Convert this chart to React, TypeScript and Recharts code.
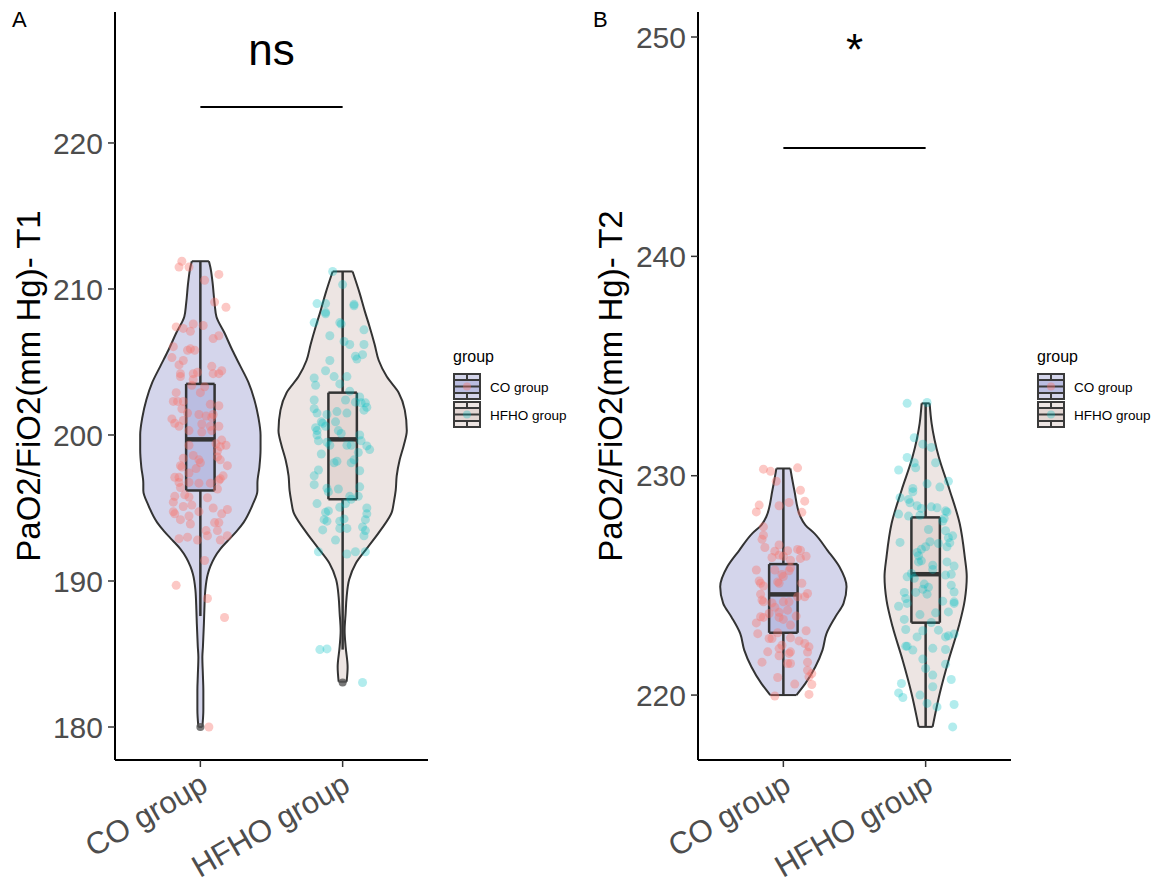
import React from 'react';
import { ComposedChart, Area, Scatter, XAxis, YAxis, ReferenceLine } from 'recharts';

type Pair = [number, number];

const categories = ['CO group', 'HFHO group'];

// violin outlines: [value, half width in category units]
const violinA_CO: Pair[] = [
  [211.9, 0.06], [211.5, 0.07], [210.5, 0.085], [209, 0.1], [208.1, 0.113], [207, 0.169], [205.8, 0.225],
  [204.7, 0.282], [203.6, 0.338], [202.4, 0.38], [201.2, 0.408], [200, 0.423], [199, 0.423], [197.8, 0.415],
  [196.7, 0.401], [196.2, 0.401], [195.2, 0.366], [194, 0.303], [193.4, 0.254], [192.8, 0.197], [192.2, 0.141],
  [191.6, 0.099], [191, 0.07], [190.5, 0.053], [189.4, 0.035], [188, 0.028], [187.1, 0.025], [185.5, 0.018],
  [184.8, 0.014], [183.5, 0.018], [182.5, 0.021], [181.2, 0.021], [180, 0.014],
];
const violinA_HFHO: Pair[] = [
  [211.2, 0.07], [209.7, 0.12], [208.5, 0.155], [207.4, 0.19], [206.2, 0.225], [205.1, 0.254], [204, 0.31],
  [202.9, 0.394], [201.7, 0.437], [200.3, 0.451], [199.3, 0.43], [198.3, 0.401], [197.2, 0.38], [196.2, 0.373],
  [195.4, 0.36], [194.7, 0.345], [193.5, 0.268], [192.3, 0.176], [191.2, 0.092], [190.1, 0.046], [188.9, 0.028],
  [187.8, 0.021], [186.6, 0.014], [185.5, 0.021], [184.1, 0.035], [183.1, 0.028],
];
const violinB_CO: Pair[] = [
  [230.33, 0.049], [229.34, 0.077], [228.13, 0.12], [227.75, 0.155], [227.37, 0.218], [226.6, 0.31],
  [225.85, 0.394], [224.94, 0.444], [224.18, 0.423], [223.57, 0.366], [222.8, 0.303], [222.05, 0.275],
  [221.29, 0.225], [220.53, 0.155], [220.0, 0.092],
];
const violinB_HFHO: Pair[] = [
  [233.3, 0.028], [232.39, 0.042], [230.86, 0.092], [229.34, 0.169], [227.83, 0.239], [226.3, 0.275],
  [225.39, 0.289], [224.33, 0.275], [223.11, 0.232], [221.6, 0.162], [220.07, 0.099], [219.0, 0.063],
  [218.55, 0.049],
];

// box stats: [lower whisker, q1, median, q3, upper whisker]
const boxA_CO = [187.6, 196.2, 199.7, 203.5, 211.9];
const boxA_HFHO = [185.3, 195.6, 199.7, 202.9, 211.2];
const boxB_CO = [220.0, 222.84, 224.59, 225.97, 230.33];
const boxB_HFHO = [218.55, 223.3, 225.51, 228.1, 233.3];
const outliersA = [[180.0], [183.05]];
const outliersB: number[][] = [[], []];

// jittered points: [offset from category, value]
const pointsA_CO: Pair[] = [
  [-0.13, 211.9], [-0.15, 211.5], [-0.08, 211.5], [0.13, 211.0], [0.03, 210.6], [0.1, 209.1], [0.18, 208.75],
  [-0.05, 207.6], [0.02, 207.5], [-0.17, 207.4], [-0.12, 207.3], [-0.07, 207.1], [0.09, 206.6], [0.13, 206.8],
  [-0.19, 206.05], [-0.09, 205.8], [-0.07, 205.9], [-0.04, 205.8], [-0.2, 205.3], [-0.12, 205.1], [-0.15, 204.8],
  [0.08, 204.7], [-0.02, 204.3], [0.09, 204.2], [0.13, 204.2], [0.15, 204.4], [-0.14, 204.2], [-0.14, 204.0],
  [-0.05, 204.2], [-0.05, 203.8], [-0.06, 203.4], [0.03, 203.3], [-0.17, 202.9], [0, 202.9], [-0.19, 202.3],
  [-0.16, 202.3], [-0.12, 202.3], [-0.13, 201.8], [0.07, 202.1], [0.13, 202.0], [-0.09, 201.5], [-0.01, 201.4],
  [0.04, 201.3], [0.09, 201.4], [0.08, 201.2], [-0.2, 201.1], [-0.18, 200.8], [-0.12, 201.0], [-0.15, 200.6],
  [-0.08, 200.3], [0.01, 200.75], [0.07, 200.6], [0.13, 200.6], [0.01, 200.2], [0.08, 200.3], [0.11, 199.4],
  [0.15, 199.65], [0.18, 199.3], [0.14, 199.2], [0.12, 198.9], [-0.08, 199.3], [-0.05, 198.6], [-0.01, 198.3],
  [0, 198.1], [-0.03, 197.7], [-0.12, 198.4], [-0.14, 197.9], [-0.13, 197.8], [0.12, 198.5], [0.14, 198.3],
  [0.19, 197.9], [-0.08, 197.4], [-0.18, 197.1], [-0.15, 197.1], [-0.15, 196.75], [-0.14, 196.4], [-0.08, 196.75],
  [-0.01, 196.7], [0.07, 196.7], [0.14, 197.0], [0.16, 197.2], [0.13, 196.9], [0.12, 196.3], [-0.18, 195.8],
  [-0.11, 195.9], [-0.08, 195.75], [0.05, 195.7], [-0.19, 195.4], [-0.12, 195.1], [-0.06, 195.2], [-0.01, 194.75],
  [0.09, 195.0], [0.19, 194.9], [0.15, 194.6], [-0.19, 194.75], [-0.18, 194.6], [-0.14, 194.2], [-0.08, 194.45],
  [-0.07, 193.9], [0.1, 194.0], [0.13, 194.0], [0.12, 193.45], [0.04, 193.45], [0.05, 193.1], [0.19, 193.1],
  [0.14, 192.8], [-0.02, 192.8], [-0.09, 193.0], [-0.15, 192.9], [0.03, 191.4], [-0.17, 189.7], [0.05, 188.8],
  [0.17, 187.5], [0.06, 180.0],
];
const pointsA_HFHO: Pair[] = [
  [-0.07, 211.2], [0, 210.3], [-0.18, 209.0], [-0.12, 209.0], [0.08, 208.95], [0.08, 208.85], [-0.12, 208.4],
  [-0.12, 208.3], [-0.2, 207.7], [-0.02, 207.7], [-0.01, 207.6], [0.15, 207.2], [-0.09, 206.8], [0.01, 206.4],
  [0.05, 206.2], [0.15, 206.2], [0.09, 205.4], [0.1, 205.2], [0.14, 205.5], [-0.09, 205.1], [-0.12, 204.4],
  [-0.06, 204.0], [0.03, 204.0], [-0.2, 203.9], [-0.19, 203.4], [-0.02, 203.5], [0.05, 203.0], [-0.2, 202.4],
  [0.02, 202.4], [0.12, 202.6], [0.09, 202.25], [0.13, 202.2], [0.16, 202.2], [0.17, 201.9], [0.15, 201.7],
  [-0.2, 201.8], [-0.18, 201.5], [-0.11, 201.4], [-0.04, 201.6], [0.03, 201.5], [-0.15, 200.9], [-0.14, 200.8],
  [-0.19, 200.5], [-0.12, 200.6], [-0.05, 200.9], [-0.18, 200.3], [-0.18, 200.0], [-0.17, 199.6], [-0.03, 200.3],
  [-0.01, 200.1], [0.12, 200.0], [0.13, 199.6], [-0.11, 199.5], [-0.09, 199.3], [0.03, 199.3], [0.06, 199.3],
  [0.17, 199.25], [0.19, 199.0], [0.11, 198.8], [-0.15, 198.7], [-0.06, 198.1], [-0.04, 198.2], [0.06, 198.1],
  [0.08, 198.3], [-0.17, 197.6], [-0.2, 197.2], [0.12, 197.55], [-0.2, 196.6], [-0.11, 196.35], [-0.1, 196.1],
  [-0.03, 196.3], [0.12, 196.45], [0.11, 195.8], [0.05, 195.8], [0.06, 195.6], [-0.18, 195.3], [-0.02, 195.05],
  [0.02, 195.3], [0.17, 195.0], [0.17, 194.6], [0.16, 194.2], [-0.12, 194.7], [-0.1, 194.8], [-0.13, 194.2],
  [-0.11, 194.1], [-0.02, 194.1], [0.01, 194.25], [-0.14, 193.5], [-0.02, 193.6], [0.03, 193.6], [0.14, 193.7],
  [0.16, 193.45], [0.15, 193.1], [-0.05, 192.8], [-0.17, 192.0], [0.03, 191.85], [0.09, 192.0], [0.16, 192.0],
  [-0.16, 185.3], [-0.11, 185.35], [0.14, 183.05],
];
const pointsB_CO: Pair[] = [
  [-0.14, 230.3], [-0.09, 230.2], [0.1, 230.36], [-0.05, 229.75], [0.12, 229.34], [0.15, 228.84], [0.13, 228.33],
  [-0.17, 228.66], [-0.19, 228.35], [-0.03, 228.63], [0.04, 228.78], [-0.14, 227.67], [-0.14, 227.29],
  [-0.15, 227.1], [-0.13, 226.73], [-0.03, 226.84], [-0.06, 226.56], [0.03, 226.58], [0.1, 226.64], [0.12, 226.6],
  [-0.08, 226.27], [-0.03, 226.38], [0, 226.33], [0.05, 226.15], [0.12, 226.23], [0.16, 226.33], [-0.19, 225.7],
  [-0.06, 225.7], [-0.01, 225.5], [0, 225.4], [0.04, 225.67], [0.05, 225.8], [-0.03, 225.1], [-0.16, 225.1],
  [-0.17, 225.2], [-0.14, 224.97], [-0.04, 225.16], [0.13, 225.1], [0.17, 224.63], [0.15, 224.48], [-0.16, 224.6],
  [-0.14, 224.25], [-0.15, 224.33], [-0.08, 224.2], [-0.06, 224.0], [0, 224.25], [0.04, 224.25], [0.1, 224.48],
  [-0.1, 223.72], [-0.03, 223.77], [-0.03, 223.54], [0, 223.45], [0.03, 223.87], [0.05, 223.19], [0.09, 223.6],
  [-0.19, 223.29], [-0.16, 223.57], [-0.14, 223.54], [-0.18, 222.8], [-0.1, 222.58], [-0.08, 222.58],
  [-0.04, 222.84], [0.05, 222.61], [0.11, 222.47], [0.16, 222.93], [0.15, 222.35], [0.18, 222.2], [0.17, 221.96],
  [-0.03, 222.12], [-0.01, 222.27], [-0.11, 221.97], [-0.03, 221.79], [0.04, 221.9], [0.05, 221.97],
  [-0.15, 221.5], [0.03, 221.44], [0.05, 221.44], [0.17, 221.5], [0.17, 221.13], [0.2, 220.98], [0.18, 220.83],
  [0.2, 220.48], [-0.04, 220.8], [0.08, 220.5], [0.18, 220.03], [-0.06, 219.96],
];
const pointsB_HFHO: Pair[] = [
  [-0.13, 233.3], [0.01, 233.34], [-0.08, 231.73], [-0.02, 231.44], [0.04, 231.29], [-0.13, 230.83],
  [-0.19, 230.26], [-0.08, 230.59], [-0.07, 230.36], [0.07, 230.59], [0.16, 229.75], [0.1, 229.48], [0.01, 229.63],
  [-0.09, 229.42], [-0.09, 229.27], [-0.18, 229.0], [-0.12, 228.92], [-0.11, 228.77], [-0.06, 228.63],
  [-0.03, 228.51], [0.04, 228.58], [0.08, 228.54], [0.14, 228.4], [0.15, 228.35], [-0.19, 228.25], [-0.12, 228.16],
  [-0.04, 228.2], [0.13, 228.05], [0.12, 227.93], [0.02, 227.55], [0.14, 227.49], [0.19, 227.26], [0.16, 227.17],
  [0.17, 226.94], [0.15, 226.76], [0.09, 226.91], [0.03, 226.99], [0, 226.76], [-0.03, 226.65], [-0.06, 226.5],
  [-0.05, 226.35], [-0.18, 226.96], [-0.03, 226.12], [-0.05, 226.07], [0.05, 225.92], [0.15, 226.07],
  [0.2, 225.88], [-0.13, 225.39], [-0.1, 225.54], [-0.08, 225.32], [0.14, 225.47], [0.18, 225.51], [0.05, 225.73],
  [-0.01, 225.06], [0.02, 224.91], [-0.02, 224.82], [-0.07, 224.68], [0.01, 224.6], [0.18, 225.01], [0.2, 224.7],
  [-0.15, 224.68], [-0.14, 224.4], [-0.19, 224.05], [-0.13, 224.18], [0.12, 224.28], [0.2, 224.25], [0.2, 224.18],
  [0.16, 223.79], [0.07, 223.75], [-0.04, 223.67], [0.04, 223.31], [0.09, 222.96], [-0.15, 223.45],
  [-0.14, 222.99], [-0.02, 222.93], [-0.06, 222.65], [0.14, 222.65], [0.16, 222.7], [0.2, 222.78],
  [-0.14, 222.23], [-0.13, 222.23], [-0.09, 222.05], [0.05, 222.13], [0.14, 222.08], [-0.02, 221.64],
  [0, 221.21], [0.14, 221.41], [0.05, 220.91], [0.05, 220.38], [0.18, 220.71], [-0.17, 220.53], [-0.19, 220.1],
  [-0.16, 219.89], [-0.04, 220.0], [0.01, 219.62], [0.08, 219.46], [0.2, 219.57], [0.19, 218.55],
];

const ticksA = [180, 190, 200, 210, 220];
const ticksB = [220, 230, 240, 250];

const violinFill = ['#d4d5eb', '#ede5e3'];
const boxFill = ['#babde1', '#e3d6d3'];
const pointFill = ['#F8766D', '#00BFC4'];
const pointOpacity = [0.4, 0.3];
const INK = '#333333';
const BOX_HALF = 0.1;
const FONT = '"Liberation Sans", Arial, Helvetica, sans-serif';

function CatTick(props: any) {
  const { x, y, payload } = props;
  const ax = x - 2;
  const ay = y + 2;
  return (
    <text x={ax} y={ay} transform={`rotate(-30 ${ax} ${ay})`} textAnchor="end" dominantBaseline="hanging"
      fontSize={31} fill="#4d4d4d" fontFamily={FONT}>
      {categories[payload.value - 1]}
    </text>
  );
}

interface PanelProps {
  violins: Pair[][];
  boxes: number[][];
  points: Pair[][];
  outliers: number[][];
  domain: [number, number];
  ticks: number[];
  sigY: number;
  sigText: string;
  sigOffset: number;
}

const Panel: React.FC<PanelProps> = ({ violins, boxes, points, outliers, domain, ticks, sigY, sigText, sigOffset }) => {
  const refs: React.ReactNode[] = [];
  boxes.forEach((b, i) => {
    const c = i + 1;
    const [lo, q1, med, q3, hi] = b;
    const vd = violins[i];
    const top = vd[0];
    const bot = vd[vd.length - 1];
    const seg = (k: string, x1: number, y1: number, x2: number, y2: number, w: number) =>
      refs.push(
        <ReferenceLine key={`${k}${i}`} segment={[{ x: x1, y: y1 }, { x: x2, y: y2 }]} stroke={INK} strokeWidth={w} />
      );
    seg('vt', c - top[1], top[0], c + top[1], top[0], 2);
    seg('vb', c - bot[1], bot[0], c + bot[1], bot[0], 2);
    seg('wh', c, q3, c, hi, 2.5);
    seg('wl', c, lo, c, q1, 2.5);
    seg('bt', c - BOX_HALF, q3, c + BOX_HALF, q3, 2.5);
    seg('bb', c - BOX_HALF, q1, c + BOX_HALF, q1, 2.5);
    seg('md', c - BOX_HALF, med, c + BOX_HALF, med, 4.5);
  });

  return (
    <ComposedChart layout="vertical" width={440} height={884} margin={{ top: 12, right: 12, bottom: 0, left: 0 }}>
      <XAxis type="number" dataKey="x" domain={[0.4, 2.6]} allowDataOverflow ticks={[1, 2]} interval={0}
        height={124} tickSize={7} tick={CatTick}
        axisLine={{ stroke: '#000', strokeWidth: 2 }} tickLine={{ stroke: INK, strokeWidth: 1.5 }} />
      <YAxis type="number" dataKey="v" domain={domain} allowDataOverflow reversed ticks={ticks} interval={0}
        width={115} tickSize={7} tickMargin={5}
        tick={{ fontSize: 30, fill: '#4d4d4d', fontFamily: FONT }}
        axisLine={{ stroke: '#000', strokeWidth: 2 }} tickLine={{ stroke: INK, strokeWidth: 1.5 }} />
      {violins.map((vd, i) => (
        <Area key={`v${i}`} data={vd.map(([v, w]) => ({ v, r: [i + 1 - w, i + 1 + w] }))} dataKey="r"
          type="monotone" fill={violinFill[i]} fillOpacity={1} stroke={INK} strokeWidth={2} isAnimationActive={false} />
      ))}
      {boxes.map((b, i) => (
        <Area key={`b${i}`} data={[b[1], b[3]].map((v) => ({ v, r: [i + 1 - BOX_HALF, i + 1 + BOX_HALF] }))}
          dataKey="r" type="linear" fill={boxFill[i]} fillOpacity={1} stroke={INK} strokeWidth={2.5}
          isAnimationActive={false} />
      ))}
      {refs}
      <ReferenceLine segment={[{ x: 1, y: sigY }, { x: 2, y: sigY }]} stroke="#000" strokeWidth={2}
        label={{ value: sigText, position: 'top', offset: sigOffset, fontSize: 44, fill: '#000', fontFamily: FONT }} />
      {points.map((pts, i) => (
        <Scatter key={`p${i}`} data={pts.map(([dx, v]) => ({ x: i + 1 + dx, v }))} isAnimationActive={false}
          shape={(p: any) => <circle cx={p.cx} cy={p.cy} r={4.5} fill={pointFill[i]} fillOpacity={pointOpacity[i]} />} />
      ))}
      {outliers.map((o, i) => (
        <Scatter key={`o${i}`} data={o.map((v) => ({ x: i + 1, v }))} isAnimationActive={false}
          shape={(p: any) => <circle cx={p.cx} cy={p.cy} r={4} fill="#555" fillOpacity={0.8} />} />
      ))}
    </ComposedChart>
  );
};

const LegendKey: React.FC<{ x: number; y: number; i: number }> = ({ x, y, i }) => (
  <g>
    <rect x={x} y={y} width={28} height={27} fill="#3a3a3a" />
    <rect x={x + 2} y={y + 2} width={11} height={4} fill={violinFill[i]} />
    <rect x={x + 15} y={y + 2} width={11} height={4} fill={violinFill[i]} />
    <rect x={x + 2} y={y + 8} width={24} height={4.5} fill={boxFill[i]} />
    <rect x={x + 2} y={y + 14.5} width={24} height={4.5} fill={boxFill[i]} />
    <rect x={x + 2} y={y + 21} width={11} height={4} fill={violinFill[i]} />
    <rect x={x + 15} y={y + 21} width={11} height={4} fill={violinFill[i]} />
    <circle cx={x + 14} cy={y + 13.5} r={4} fill={pointFill[i]} fillOpacity={pointOpacity[i]} />
  </g>
);

const Legend: React.FC<{ x: number }> = ({ x }) => (
  <g fontFamily={FONT}>
    <text x={x} y={362} fontSize={16} fill="#000">group</text>
    {categories.map((c, i) => (
      <g key={c}>
        <LegendKey x={x} y={373 + i * 28} i={i} />
        <text x={x + 37} y={392 + i * 28} fontSize={13.5} fill="#000">{c}</text>
      </g>
    ))}
  </g>
);

export default function App() {
  return (
    <div style={{ position: 'relative', width: 1158, height: 884, background: '#fff', fontFamily: FONT }}>
      <style>{'body{margin:0}'}</style>
      <div style={{ position: 'absolute', left: 0, top: 0 }}>
        <Panel violins={[violinA_CO, violinA_HFHO]} boxes={[boxA_CO, boxA_HFHO]} points={[pointsA_CO, pointsA_HFHO]}
          outliers={outliersA} domain={[177.74, 228.97]} ticks={ticksA} sigY={222.47} sigText="ns" sigOffset={42} />
      </div>
      <div style={{ position: 'absolute', left: 583, top: 0 }}>
        <Panel violins={[violinB_CO, violinB_HFHO]} boxes={[boxB_CO, boxB_HFHO]} points={[pointsB_CO, pointsB_HFHO]}
          outliers={outliersB} domain={[217.04, 251.14]} ticks={ticksB} sigY={244.94} sigText="*" sigOffset={83} />
      </div>
      <svg width={1158} height={884} style={{ position: 'absolute', left: 0, top: 0, pointerEvents: 'none' }}>
        <text x={12} y={27} fontSize={22} fontFamily={FONT} fill="#000">A</text>
        <text x={593} y={27} fontSize={22} fontFamily={FONT} fill="#000">B</text>
        <text x={40} y={386} transform="rotate(-90 40 386)" textAnchor="middle" fontSize={33} fontFamily={FONT} fill="#000">
          PaO2/FiO2(mm Hg)- T1
        </text>
        <text x={622} y={386} transform="rotate(-90 622 386)" textAnchor="middle" fontSize={33} fontFamily={FONT} fill="#000">
          PaO2/FiO2(mm Hg)- T2
        </text>
        <Legend x={453} />
        <Legend x={1037} />
      </svg>
    </div>
  );
}
